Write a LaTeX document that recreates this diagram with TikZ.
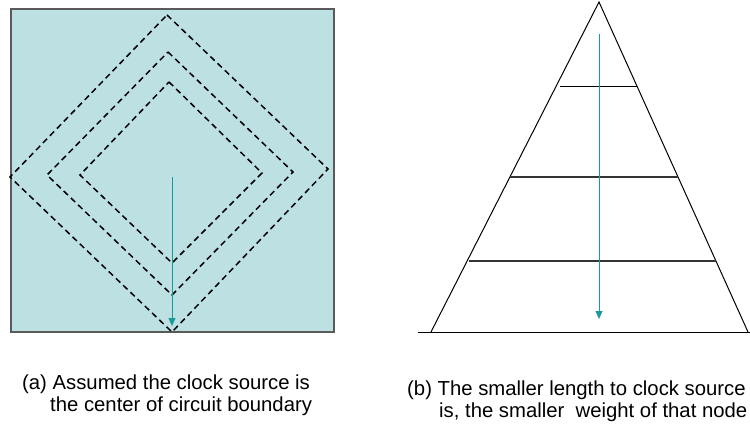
\documentclass[tikz,border=0pt]{standalone}
\usepackage{fontspec}
\setmainfont{Liberation Sans}
\usetikzlibrary{arrows.meta}
\definecolor{panelfill}{HTML}{BDE0E3}
\definecolor{paneledge}{HTML}{5A5A5A}
\definecolor{teal}{HTML}{1A9A9A}
\tikzset{
  panel/.style={fill=panelfill,draw=paneledge,line width=1.2pt},
  ring/.style={draw=black,line width=1.5pt,dash pattern=on 6pt off 4pt},
  flow/.style={draw=teal,line width=1pt,-{Triangle[length=8pt,width=7pt]}},
  edge/.style={draw=black,line width=1pt},
  level/.style={draw=black!80,line width=1.3pt},
  caption/.style={anchor=base west,inner sep=0pt,font=\fontsize{20.3}{22}\selectfont}
}
\begin{document}
\begin{tikzpicture}[x=1pt,y=-1pt]
\useasboundingbox (0,0) rectangle (750,425);
% left panel
\path[panel] (11,9) rectangle (334,332);
\draw[ring] (167,15) -- (328,169) -- (172,332) -- (10,177) -- cycle;
\draw[ring] (168,52) -- (293,172) -- (172,295) -- (47,175) -- cycle;
\draw[ring] (169,82) -- (262,173) -- (172,263) -- (80,175) -- cycle;
\coordinate (srcA) at (172,177);
\coordinate (endA) at (172,326);
\draw[flow] (srcA) -- (endA);
% right panel
\coordinate (apex) at (599,2);
\coordinate (bl) at (431,332);
\coordinate (br) at (748,332);
\draw[edge] (bl) -- (apex) -- (br);
\draw[edge] (418,332) -- (750,332);
\draw[edge] (560,87) -- (637,87);
\draw[level] (510,177) -- (678,177);
\draw[level] (469,261) -- (716,261);
\coordinate (srcB) at (599,34);
\coordinate (endB) at (599,319);
\draw[flow] (srcB) -- (endB);
% captions
\node[caption] (a1) at (22,389) {(a) Assumed the clock source is};
\node[caption] (a2) at (50,411) {the center of circuit boundary};
\node[caption] (b1) at (407,395) {(b) The smaller length to clock source};
\node[caption] (b2) at (439,417) {is, the smaller\ \ weight of that node};
\end{tikzpicture}
\end{document}
